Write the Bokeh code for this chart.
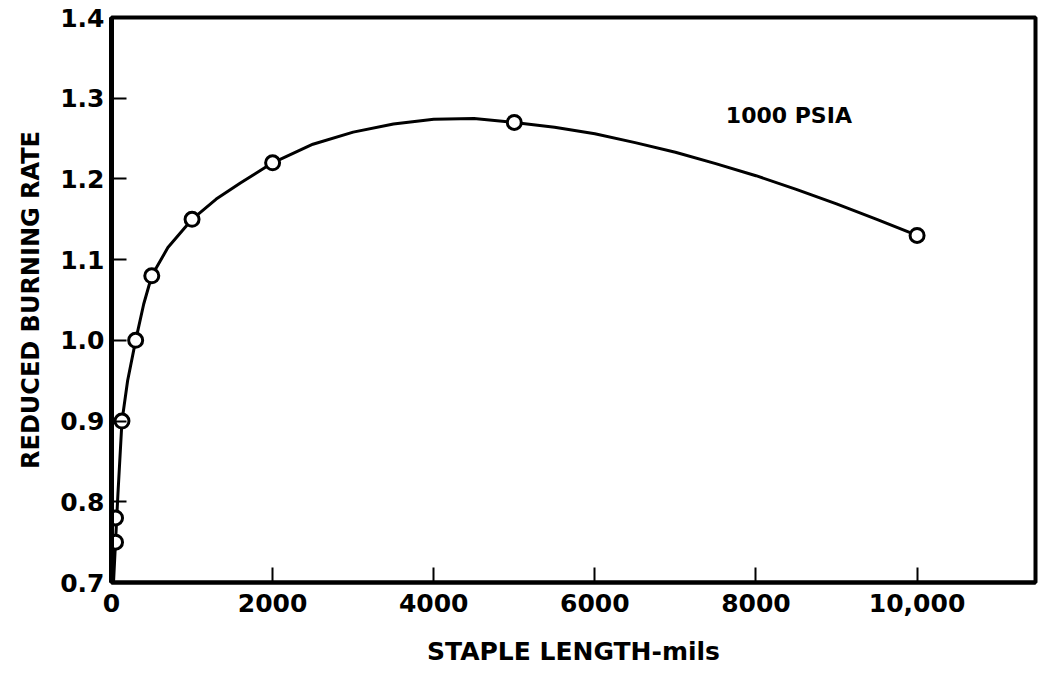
from bokeh.plotting import figure
from bokeh.models import Range1d, FixedTicker, Label
from bokeh.embed import file_html
from bokeh.resources import INLINE

# measured data points (staple length in mils, reduced burning rate)
staple_length = [50, 50, 130, 300, 500, 1000, 2000, 5000, 10000]
burning_rate = [0.75, 0.78, 0.90, 1.00, 1.08, 1.15, 1.22, 1.27, 1.13]

# hand-drawn fitted curve
curve_x = [25, 80, 130, 200, 300, 400, 500, 700, 1000, 1300, 1600, 2000, 2500, 3000,
           3500, 4000, 4500, 5000, 5500, 6000, 6500, 7000, 7500, 8000, 8500, 9000, 9500, 10000]
curve_y = [0.70, 0.81, 0.90, 0.95, 1.00, 1.045, 1.08, 1.115, 1.15, 1.175, 1.195, 1.22, 1.243, 1.258,
           1.268, 1.274, 1.275, 1.27, 1.264, 1.256, 1.245, 1.233, 1.219, 1.204, 1.187, 1.169, 1.150, 1.13]

x_ticks = [0, 2000, 4000, 6000, 8000, 10000]
x_tick_labels = {0: "0", 2000: "2000", 4000: "4000", 6000: "6000", 8000: "8000", 10000: "10,000"}
y_ticks = [0.7, 0.8, 0.9, 1.0, 1.1, 1.2, 1.3, 1.4]
y_tick_labels = {0.7: "0.7", 0.8: "0.8", 0.9: "0.9", 1.0: "1.0", 1.1: "1.1", 1.2: "1.2", 1.3: "1.3", 1.4: "1.4"}

FONT = "DejaVu Sans"

p = figure(width=1038, height=678, output_backend="svg", toolbar_location=None,
           x_range=Range1d(0, 11470), y_range=Range1d(0.7, 1.4),
           min_border_left=111, min_border_right=3, min_border_top=17, min_border_bottom=96)

p.grid.visible = False
p.outline_line_color = "black"
p.outline_line_width = 4
p.background_fill_color = "white"
p.border_fill_color = "white"

p.line(curve_x, curve_y, line_color="black", line_width=3)
p.scatter(staple_length, burning_rate, marker="circle", size=14, line_color="black",
          line_width=3, fill_color="white")

xa = p.xaxis[0]
xa.ticker = FixedTicker(ticks=x_ticks)
xa.major_label_overrides = x_tick_labels
xa.minor_tick_line_color = None
xa.major_tick_in = 15
xa.major_tick_out = 0
xa.major_tick_line_width = 2
xa.axis_line_width = 4
xa.major_label_standoff = 11
xa.major_label_text_font = FONT
xa.major_label_text_font_style = "bold"
xa.major_label_text_font_size = "25px"
xa.major_label_text_color = "black"
xa.axis_label = "STAPLE LENGTH-mils"
xa.axis_label_text_font = FONT
xa.axis_label_text_font_style = "bold"
xa.axis_label_text_font_size = "25px"
xa.axis_label_text_color = "black"
xa.axis_label_standoff = 22

ya = p.yaxis[0]
ya.ticker = FixedTicker(ticks=y_ticks)
ya.major_label_overrides = y_tick_labels
ya.minor_tick_line_color = None
ya.major_tick_in = 15
ya.major_tick_out = 0
ya.major_tick_line_width = 2
ya.axis_line_width = 5
ya.major_label_standoff = 7
ya.major_label_text_font = FONT
ya.major_label_text_font_style = "bold"
ya.major_label_text_font_size = "25px"
ya.major_label_text_color = "black"
ya.axis_label = "REDUCED BURNING RATE"
ya.axis_label_text_font = FONT
ya.axis_label_text_font_style = "bold"
ya.axis_label_text_font_size = "24px"
ya.axis_label_text_color = "black"
ya.axis_label_standoff = 12

p.add_layout(Label(x=7626, y=1.279, text="1000  PSIA", text_font=FONT, text_font_size="22px",
                   text_font_style="bold", text_baseline="middle", text_align="left",
                   text_color="black"))

open("out.html", "w").write(file_html(p, INLINE))
